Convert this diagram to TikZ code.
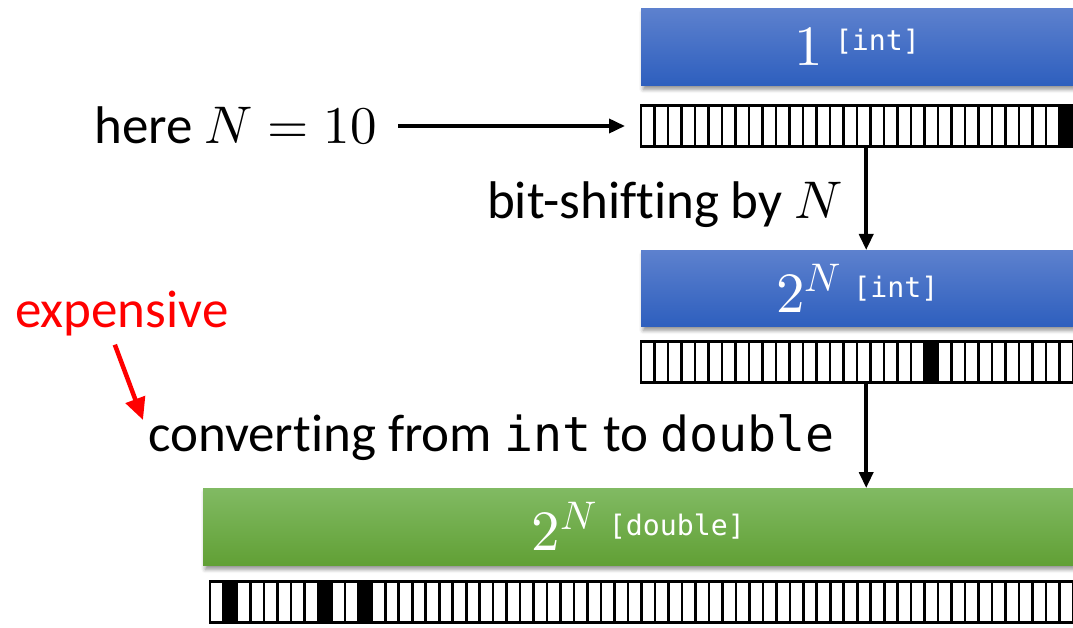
\documentclass[tikz,border=0pt]{standalone}
\usepackage{fontspec}
\usepackage{unicode-math}
\setmainfont{Carlito}[Ligatures=CommonOff, Contextuals=AlternateOff]
\setmonofont{DejaVu Sans Mono}[Scale=0.91]
\usepackage{tikz}
\usetikzlibrary{arrows.meta, positioning, shadows.blur}
\definecolor{cbluetop}{RGB}{93,129,206}
\definecolor{cbluebot}{RGB}{46,95,190}
\definecolor{cgreentop}{RGB}{129,186,99}
\definecolor{cgreenbot}{RGB}{97,160,53}
\newcommand\typetag[1]{\raisebox{15pt}{\fontsize{31}{32}\selectfont\ttfamily[#1]}}
\tikzset{
Box/.style={
	anchor=north west,
	minimum width=432pt,
	minimum height=77pt,
	inner sep=0pt,
	text=white,
	font=\fontsize{57}{60}\selectfont,
	blur shadow={shadow xshift=2pt, shadow yshift=-4pt, shadow blur radius=4pt, shadow opacity=45}
},
IntBox/.style={
	Box,
	top color=cbluetop, bottom color=cbluebot
},
DoubleBox/.style={
	Box,
	minimum width=870pt,
	top color=cgreentop, bottom color=cgreenbot
},
Strip/.style={
	anchor=north west,
	minimum height=41pt,
	inner sep=0pt
},
Bit/.style={
	draw=black, line width=2.6pt, fill=white
},
SetBit/.style={
	Bit, fill=black
},
Edge/.style={
	draw=black, line width=3.6pt,
	-{Triangle[length=16pt, width=14pt]}
},
MarkedEdge/.style={
	Edge, red, line width=4.5pt,
	-{Triangle[length=22pt, width=20pt]}
},
Text/.style={
	inner sep=0pt,
	font=\fontsize{53}{60}\selectfont
}
}

\begin{document}
\begin{tikzpicture}[x=1pt, y=-1pt]
	\clip (0,0) rectangle (1073,628);

	% values as int
	\node[IntBox] (box1) at (641,8) {$1$\hspace{12pt}\typetag{int}};
	\node[Strip, minimum width=432pt, below=20pt of box1.south west, anchor=north west] (strip1) {};
	\foreach \i in {0,...,31}
		\draw[Bit] ([xshift=\i*13.5pt]strip1.north west) rectangle ++(13.5pt,-41pt);
	\foreach \i in {31}
		\draw[SetBit] ([xshift=\i*13.5pt]strip1.north west) rectangle ++(13.5pt,-41pt);

	\node[IntBox, minimum height=76pt] (box2) at (641,250) {$2^N$\hspace{12pt}\typetag{int}};
	\node[Strip, minimum width=432pt, below=15pt of box2.south west, anchor=north west] (strip2) {};
	\foreach \i in {0,...,31}
		\draw[Bit] ([xshift=\i*13.5pt]strip2.north west) rectangle ++(13.5pt,-41pt);
	\foreach \i in {21}
		\draw[SetBit] ([xshift=\i*13.5pt]strip2.north west) rectangle ++(13.5pt,-41pt);

	% value as double
	\node[DoubleBox] (box3) at (203,488) {$2^N$\hspace{12pt}\typetag{double}};
	\node[Strip, minimum width=863pt, below right=16pt and 7pt of box3.south west, anchor=north west] (strip3) {};
	\foreach \i in {0,...,63}
		\draw[Bit] ([xshift=\i*13.484pt]strip3.north west) rectangle ++(13.484pt,-41pt);
	\foreach \i in {1,8,11}
		\draw[SetBit] ([xshift=\i*13.484pt]strip3.north west) rectangle ++(13.484pt,-41pt);

	% captions
	\node[Text, anchor=east] (here) at (377,126) {here $N=10$};
	\node[Text, anchor=east] (shift) at (843,205) {bit-shifting by $N$};
	\node[Text, anchor=west] (convert) at (148,438) {converting from \texttt{int} to \texttt{double}};
	\node[Text, anchor=west, red] (expensive) at (15,314) {expensive};
	\coordinate (tip) at (143,420);

	\draw[Edge, shorten <=21pt, shorten >=16pt] (here.east) -- (here.east -| strip1.west);
	\draw[Edge] ([xshift=9pt]strip1.south) -- ([xshift=9pt]box2.north);
	\draw[Edge] ([xshift=9pt]strip2.south) -- ([xshift=9pt]strip2.south |- box3.north);
	\draw[MarkedEdge] ([xshift=-7pt, yshift=-8pt]expensive.south) -- (tip);
\end{tikzpicture}
\end{document}
